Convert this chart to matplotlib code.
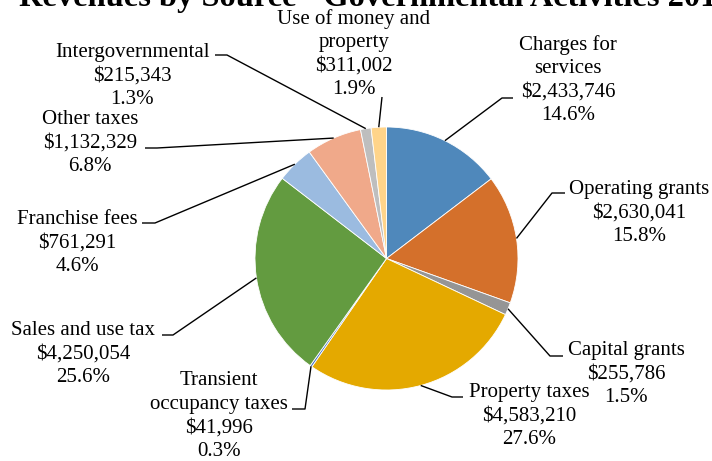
import matplotlib
matplotlib.use("Agg")
import matplotlib.pyplot as plt
import numpy as np

categories = ["Charges for\nservices", "Operating grants", "Capital grants", "Property taxes",
              "Transient\noccupancy taxes", "Sales and use tax", "Franchise fees",
              "Other taxes", "Intergovernmental", "Use of money and\nproperty"]
values = [2433746, 2630041, 255786, 4583210, 41996, 4250054, 761291, 1132329, 215343, 311002]
colors = ["#4F88BB", "#D4702B", "#959595", "#E4A900", "#4472C4", "#639B40",
          "#9BBBE0", "#F0A98A", "#BEBEBE", "#FFD48A"]
title = "Revenues by Source - Governmental Activities 2016"

W, H = 712, 461
fig = plt.figure(figsize=(W / 100, H / 100), dpi=100)
ax = fig.add_axes([0, 0, 1, 1])
ax.set_xlim(0, W)
ax.set_ylim(0, H)
ax.set_aspect("equal")
ax.axis("off")

def Y(y):
    return H - y

cx, cy, r = 386.5, 258.5, 131.5
wedges, _ = ax.pie(values, colors=colors, startangle=90, counterclock=False,
                   center=(cx, Y(cy)), radius=r,
                   wedgeprops=dict(edgecolor="white", linewidth=0.6))
ax.set_xlim(0, W)
ax.set_ylim(0, H)

font = "Liberation Serif"
fs = 15
# label layout: (text center x, text center y, anchor x, anchor y, elbow x)
layout = [
    (568, 80, 513, 98, 502),
    (639, 213, 565, 193, 552),
    (626, 374, 563, 356, 550),
    (529, 416, 463, 397, 452),
    (219, 416, 292, 409, 305),
    (83, 354, 162, 335, 173),
    (77, 243, 142, 223, 155),
    (90, 143, 145, 148, 157),
    (132, 76, 215, 55, 227),
    (354, 54, 382, 97, None),
]
total = sum(values)
for w, name, v, (tx, ty, ax_, ay_, ex) in zip(wedges, categories, values, layout):
    ang = np.deg2rad((w.theta1 + w.theta2) / 2)
    px = cx + r * np.cos(ang)
    py = Y(cy) + r * np.sin(ang)
    label = f"{name}\n${v:,.0f}\n{100 * v / total:.1f}%"
    ax.text(tx, Y(ty), label, ha="center", va="center", multialignment="center",
            fontsize=fs, family=font, linespacing=1.33, color="black")
    if ex is None:
        xs, ys = [ax_, px], [Y(ay_), py]
    else:
        xs, ys = [ax_, ex, px], [Y(ay_), Y(ay_), py]
    ax.plot(xs, ys, color="black", linewidth=1.0, solid_capstyle="butt")

fig.text(376 / W, 1 - 6 / H, title, ha="center", va="baseline", fontsize=23.3,
         fontweight="bold", family=font)

fig.savefig("out.png", dpi=100)
